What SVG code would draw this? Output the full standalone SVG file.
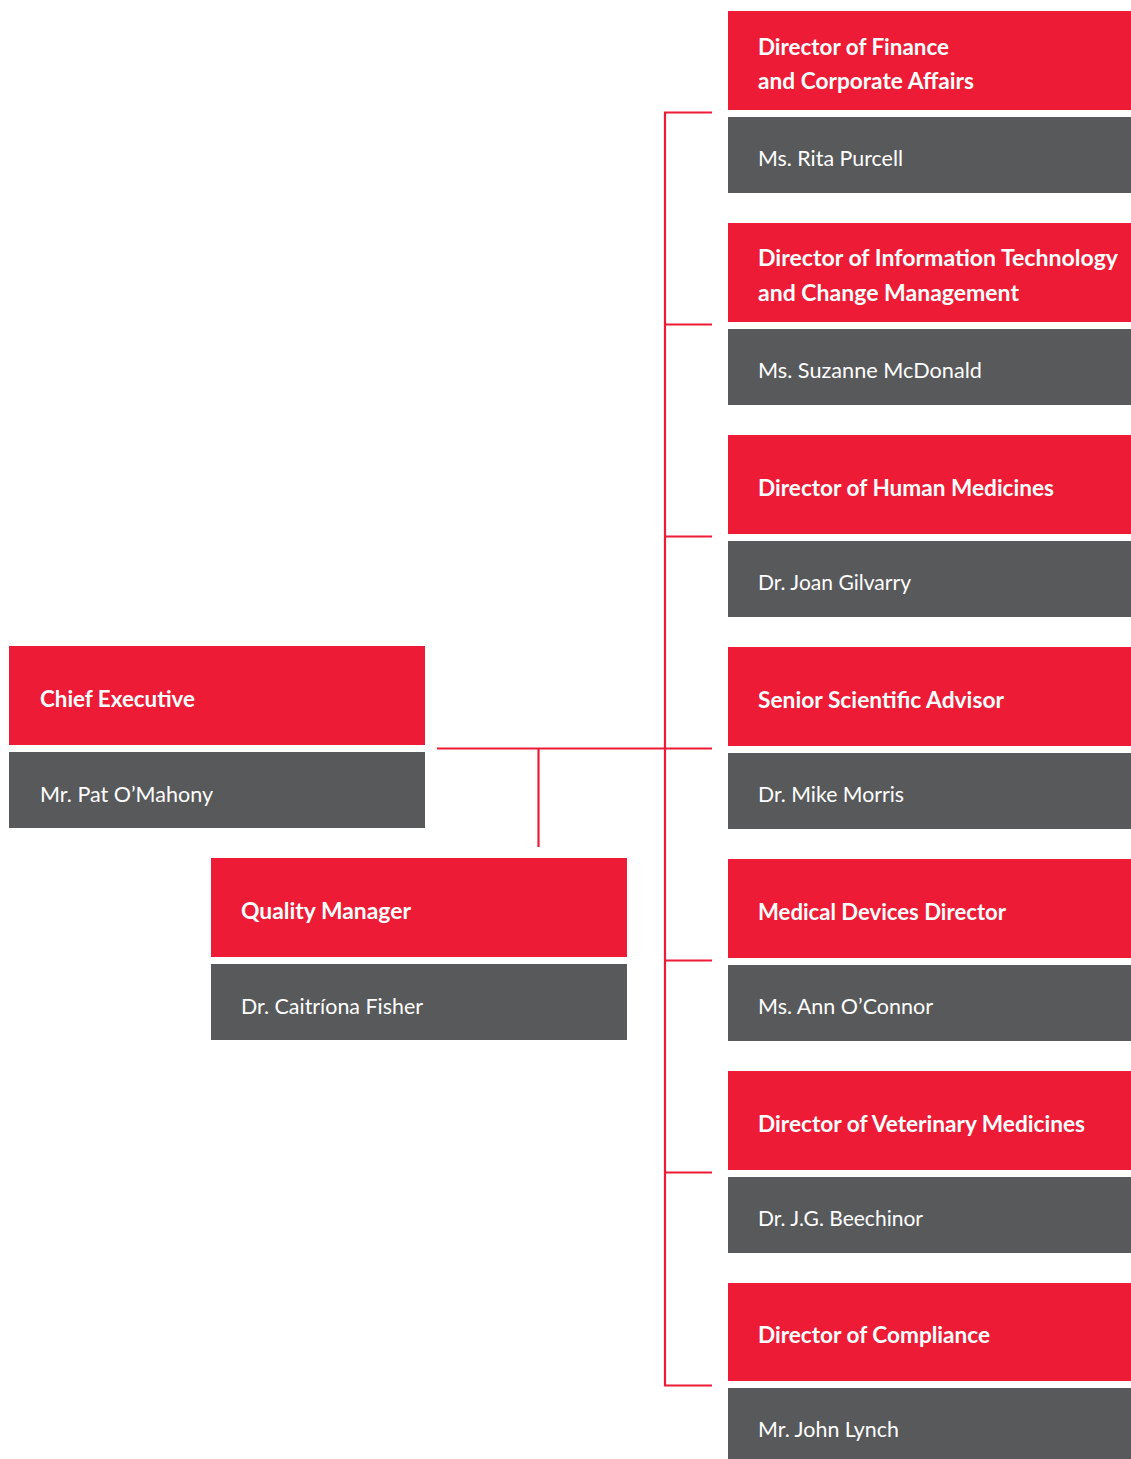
<svg xmlns="http://www.w3.org/2000/svg" width="1131" height="1459" viewBox="0 0 1131 1459">
<style>
.r{fill:#ED1B35}
.g{fill:#58595B}
.t{font-family:Lato,"Liberation Sans",sans-serif;font-size:22px;fill:#FFFFFF}
.b{font-weight:bold}
.n{font-weight:normal}
.c{stroke:#ED1B35;stroke-width:2.2;fill:none}
</style>
<rect width="1131" height="1459" fill="#FFFFFF"/>
<g id="connectors">
<polyline class="c" points="712,112.5 665,112.5 665,1385.5 712,1385.5"/>
<line class="c" x1="665" y1="324.5" x2="712" y2="324.5"/>
<line class="c" x1="665" y1="536.5" x2="712" y2="536.5"/>
<line class="c" x1="437" y1="748.5" x2="712" y2="748.5"/>
<line class="c" x1="665" y1="960.5" x2="712" y2="960.5"/>
<line class="c" x1="665" y1="1172.5" x2="712" y2="1172.5"/>
<line class="c" x1="538.5" y1="748.5" x2="538.5" y2="847"/>
</g>
<g id="chief">
<rect class="r" x="9" y="646" width="416" height="99"/>
<text class="t b" x="40" y="707" textLength="155" lengthAdjust="spacingAndGlyphs">Chief Executive</text>
<rect class="g" x="9" y="752" width="416" height="76"/>
<text class="t n" x="40" y="802" textLength="173" lengthAdjust="spacingAndGlyphs">Mr. Pat O’Mahony</text>
</g>
<g id="quality">
<rect class="r" x="211" y="858" width="416" height="99"/>
<text class="t b" x="241" y="919" textLength="170" lengthAdjust="spacingAndGlyphs">Quality Manager</text>
<rect class="g" x="211" y="964" width="416" height="76"/>
<text class="t n" x="241" y="1014" textLength="182" lengthAdjust="spacingAndGlyphs">Dr. Caitríona Fisher</text>
</g>
<g id="finance">
<rect class="r" x="728" y="11" width="403" height="99"/>
<text class="t b" x="758" y="55" textLength="191" lengthAdjust="spacingAndGlyphs">Director of Finance</text>
<text class="t b" x="758" y="89" textLength="216" lengthAdjust="spacingAndGlyphs">and Corporate Affairs</text>
<rect class="g" x="728" y="117" width="403" height="76"/>
<text class="t n" x="758" y="166" textLength="145" lengthAdjust="spacingAndGlyphs">Ms. Rita Purcell</text>
</g>
<g id="it">
<rect class="r" x="728" y="223" width="403" height="99"/>
<text class="t b" x="758" y="266" textLength="360" lengthAdjust="spacingAndGlyphs">Director of Information Technology</text>
<text class="t b" x="758" y="301" textLength="261" lengthAdjust="spacingAndGlyphs">and Change Management</text>
<rect class="g" x="728" y="329" width="403" height="76"/>
<text class="t n" x="758" y="378" textLength="224" lengthAdjust="spacingAndGlyphs">Ms. Suzanne McDonald</text>
</g>
<g id="human">
<rect class="r" x="728" y="435" width="403" height="99"/>
<text class="t b" x="758" y="496" textLength="296" lengthAdjust="spacingAndGlyphs">Director of Human Medicines</text>
<rect class="g" x="728" y="541" width="403" height="76"/>
<text class="t n" x="758" y="590" textLength="153" lengthAdjust="spacingAndGlyphs">Dr. Joan Gilvarry</text>
</g>
<g id="scientific">
<rect class="r" x="728" y="647" width="403" height="99"/>
<text class="t b" x="758" y="708" textLength="246" lengthAdjust="spacingAndGlyphs">Senior Scientific Advisor</text>
<rect class="g" x="728" y="753" width="403" height="76"/>
<text class="t n" x="758" y="802" textLength="146" lengthAdjust="spacingAndGlyphs">Dr. Mike Morris</text>
</g>
<g id="devices">
<rect class="r" x="728" y="859" width="403" height="99"/>
<text class="t b" x="758" y="920" textLength="248" lengthAdjust="spacingAndGlyphs">Medical Devices Director</text>
<rect class="g" x="728" y="965" width="403" height="76"/>
<text class="t n" x="758" y="1014" textLength="175" lengthAdjust="spacingAndGlyphs">Ms. Ann O’Connor</text>
</g>
<g id="veterinary">
<rect class="r" x="728" y="1071" width="403" height="99"/>
<text class="t b" x="758" y="1132" textLength="327" lengthAdjust="spacingAndGlyphs">Director of Veterinary Medicines</text>
<rect class="g" x="728" y="1177" width="403" height="76"/>
<text class="t n" x="758" y="1226" textLength="165" lengthAdjust="spacingAndGlyphs">Dr. J.G. Beechinor</text>
</g>
<g id="compliance">
<rect class="r" x="728" y="1283" width="403" height="98"/>
<text class="t b" x="758" y="1343" textLength="232" lengthAdjust="spacingAndGlyphs">Director of Compliance</text>
<rect class="g" x="728" y="1388" width="403" height="76"/>
<text class="t n" x="758" y="1437" textLength="141" lengthAdjust="spacingAndGlyphs">Mr. John Lynch</text>
</g>
</svg>
